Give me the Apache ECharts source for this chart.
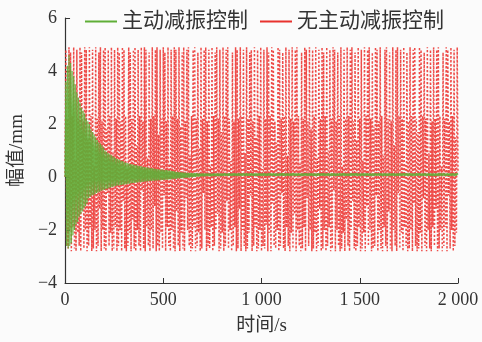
<!DOCTYPE html>
<html>
<head>
<meta charset="UTF-8"/>
<title></title>
<script src="https://cdn.jsdelivr.net/npm/echarts@6/dist/echarts.min.js"></script>
<style>
	html, body { margin: 0; padding: 0; background: #fbfbfb; }
	#chart { width: 482px; height: 342px; }
</style>
</head>
<body>
<div id="chart"></div>
<script type="text/javascript">
	// sampling step of both records, seconds
	var timeStep = 4;

	// 无主动减振控制 (red, dotted)
	var passiveValues = [
		0, 4.8, -2.6, 2.2, -2.7, 4.9, -2.0, 4.7, -2.8, 2.3,
		-1.9, 4.9, -2.7, 0.6, -2.8, 4.8, -2.1, 2.2, -2.6, 4.9,
		-2.8, 4.7, -0.8, 2.1, -2.7, 4.9, -2.0, 4.8, -2.8, 1.4,
		-2.6, 4.9, -1.9, 2.3, -2.8, 4.8, -2.7, 0.4, -2.0, 4.9,
		-2.8, 2.2, -2.6, 4.7, -1.2, 4.9, -2.8, 2.1, -2.0, 4.8,
		-2.7, 4.9, -2.8, 1.8, -0.6, 4.8, -2.6, 2.3, -2.1, 4.9,
		-2.8, 0.9, -2.7, 4.8, -1.9, 2.2, -2.8, 4.9, -2.6, 4.7,
		-2.0, 2.1, -2.8, 4.9, -0.9, 4.8, -2.7, 2.3, -2.8, 0.3,
		-2.6, 4.9, -2.1, 4.7, -2.8, 2.2, -1.6, 4.8, -2.7, 4.9,
		-2.8, 1.2, -2.0, 4.8, -2.6, 2.3, -2.8, 4.9, -0.5, 2.1,
		-2.7, 4.9, -2.8, 4.8, -1.9, 0.7, -2.6, 4.7, -2.8, 2.2,
		-2.0, 4.9, -2.7, 2.3, -1.1, 4.8, -2.8, 4.9, -2.6, 1.6,
		-2.8, 4.8, -2.1, 2.2, -2.7, 4.9, -0.7, 4.7, -2.8, 2.1,
		-1.9, 4.9, -2.6, 0.5, -2.8, 4.8, -2.0, 2.3, -2.7, 4.9,
		-2.8, 4.8, -1.3, 2.2, -2.6, 4.9, -2.8, 1.9, -2.1, 4.7,
		-2.7, 4.9, -2.8, 2.1, -0.8, 4.8, -2.0, 4.9, -2.6, 0.8,
		-2.8, 2.3, -2.7, 4.8, -1.9, 4.9, -2.8, 2.2, -2.6, 4.7,
		-2.1, 1.1, -2.8, 4.9, -2.7, 2.2, -0.6, 4.8, -2.0, 4.9,
		-2.8, 2.1, -2.6, 4.8, -2.7, 0.4, -1.9, 4.9, -2.8, 2.3,
		-2.6, 4.7, -2.0, 4.9, -1.4, 2.2, -2.8, 4.8, -2.7, 1.7,
		-2.1, 4.9, -2.8, 2.3, -2.6, 4.8, -0.9, 4.9, -2.7, 2.2,
		-2.0, 0.6, -2.8, 4.7, -2.6, 2.1, -1.9, 4.9, -2.8, 4.8,
		-2.7, 2.2, -1.2, 4.9, -2.8, 2.3, -2.0, 4.8, -2.6, 0.9,
		-2.8, 4.9, -2.7, 2.2, -2.1, 4.7, -0.7, 4.8, -2.8, 2.1,
		-2.6, 4.9, -1.9, 1.5, -2.8, 4.8, -2.7, 2.3, -2.0, 4.9,
		-2.8, 0.3, -2.6, 4.8, -2.7, 2.2, -1.8, 4.9, -2.8, 4.7,
		-2.1, 2.3, -2.8, 4.9, -1.0, 4.8, -2.6, 2.1, -2.7, 1.3,
		-2.0, 4.9, -2.8, 4.8, -2.6, 2.2, -0.6, 4.7, -2.7, 2.3,
		-2.8, 4.9, -1.9, 0.8, -2.6, 4.8, -2.8, 2.2, -2.1, 4.9,
		-2.7, 2.1, -1.4, 4.8, -2.8, 4.9, -2.0, 2.3, -2.6, 0.5,
		-2.8, 4.7, -2.7, 2.2, -1.9, 4.9, -2.8, 4.8, -0.8, 2.1,
		-2.6, 4.9, -2.0, 1.8, -2.8, 4.8, -2.7, 2.3, -2.1, 4.9,
		-2.8, 0.7, -2.6, 4.8, -1.2, 2.2, -2.8, 4.9, -2.7, 4.7,
		-2.0, 2.3, -2.8, 4.9, -2.6, 1.0, -1.9, 4.8, -2.8, 2.2,
		-2.7, 4.9, -0.5, 4.8, -2.8, 2.1, -2.0, 4.7, -2.6, 2.3,
		-2.8, 4.9, -2.7, 0.4, -2.1, 4.8, -2.8, 2.2, -1.6, 4.9,
		-2.6, 2.3, -2.8, 4.8, -2.0, 4.9, -0.9, 2.1, -2.7, 4.7,
		-2.8, 1.4, -2.6, 4.9, -1.9, 2.2, -2.8, 4.8, -2.7, 0.6,
		-2.1, 4.9, -2.8, 2.3, -1.1, 4.8, -2.6, 4.9, -2.0, 2.2,
		-2.8, 4.7, -2.7, 1.9, -2.6, 4.9, -0.7, 4.8, -2.8, 2.1,
		-2.0, 4.9, -2.7, 2.3, -2.8, 0.8, -1.9, 4.8, -2.6, 4.9,
		-2.8, 2.2, -1.3, 4.7, -2.7, 2.1, -2.8, 4.9, -2.0, 1.2,
		-2.6, 4.8, -2.8, 4.9, -0.6, 2.3, -2.7, 4.8, -2.1, 2.2,
		-2.8, 4.9, -1.9, 0.5, -2.6, 4.7, -2.8, 2.1, -2.7, 4.9,
		-2.0, 2.3, -2.8, 4.8, -1.0, 4.9, -2.6, 2.2, -2.8, 1.7,
		-2.7, 4.9, -2.1, 4.8, -2.8, 2.3, -0.8, 4.7, -2.6, 2.2,
		-2.8, 4.9, -2.0, 0.9, -2.7, 4.8, -2.8, 2.1, -1.9, 4.9,
		-2.6, 2.2, -1.2, 4.8, -2.8, 4.9, -2.7, 2.3, -2.0, 0.4,
		-2.8, 4.7, -2.6, 2.2, -1.9, 4.9, -2.8, 4.8, -0.7, 2.1,
		-2.7, 4.9, -2.0, 2.3, -2.8, 4.8, -2.6, 1.5, -2.1, 4.9,
		0.2
	];

	// 主动减振控制 (green, solid)
	var activeValues = [
		0, 3.6, -2.6, 4.2, -2.7, 4.6, -2.6, 4.3, -2.5, 4.0,
		-2.2, 3.8, -2.0, 3.5, -1.8, 3.2, -1.7, 3.0, -1.5, 2.8,
		-1.4, 2.6, -1.3, 2.5, -1.2, 2.4, -1.1, 2.2, -1.0, 2.1,
		-0.8, 2.0, -0.75, 1.8, -0.7, 1.7, -0.68, 1.6, -0.65, 1.5,
		-0.6, 1.4, -0.58, 1.3, -0.55, 1.25, -0.52, 1.2, -0.5, 1.1,
		-0.48, 1.0, -0.46, 0.95, -0.44, 0.9, -0.42, 0.86, -0.4, 0.82,
		-0.38, 0.78, -0.36, 0.74, -0.34, 0.7, -0.33, 0.68, -0.32, 0.65,
		-0.31, 0.62, -0.3, 0.6, -0.29, 0.57, -0.28, 0.55, -0.27, 0.53,
		-0.26, 0.51, -0.25, 0.49, -0.24, 0.48, -0.23, 0.46, -0.23, 0.45,
		-0.22, 0.44, -0.21, 0.42, -0.2, 0.41, -0.2, 0.4, -0.19, 0.39,
		-0.18, 0.38, -0.17, 0.37, -0.17, 0.36, -0.16, 0.35, -0.15, 0.34,
		-0.15, 0.33, -0.14, 0.32, -0.14, 0.31, -0.13, 0.3, -0.13, 0.29,
		-0.12, 0.28, -0.12, 0.28, -0.11, 0.27, -0.11, 0.26, -0.1, 0.26,
		-0.1, 0.25, -0.09, 0.24, -0.09, 0.23, -0.08, 0.22, -0.07, 0.21,
		-0.07, 0.2, -0.06, 0.2, -0.05, 0.19, -0.05, 0.18, -0.04, 0.18,
		-0.04, 0.17, -0.03, 0.17, -0.03, 0.16, -0.02, 0.16, -0.02, 0.16,
		-0.01, 0.15, -0.01, 0.15, 0.0, 0.15, 0.0, 0.15, 0.01, 0.14,
		0.01, 0.14, 0.01, 0.14, 0.02, 0.14, 0.02, 0.14, 0.02, 0.14,
		0.03, 0.14, 0.03, 0.14, 0.03, 0.13, 0.03, 0.13, 0.04, 0.13,
		0.04, 0.13, 0.04, 0.13, 0.04, 0.13, 0.04, 0.13, 0.04, 0.13,
		0.04, 0.13, 0.05, 0.14, 0.04, 0.13, 0.05, 0.13, 0.04, 0.14,
		0.05, 0.13, 0.04, 0.13, 0.05, 0.14, 0.04, 0.13, 0.05, 0.13,
		0.04, 0.14, 0.05, 0.13, 0.04, 0.13, 0.05, 0.14, 0.04, 0.13,
		0.05, 0.14, 0.04, 0.13, 0.05, 0.13, 0.04, 0.14, 0.05, 0.13,
		0.04, 0.13, 0.05, 0.14, 0.04, 0.13, 0.05, 0.14, 0.04, 0.13,
		0.05, 0.13, 0.04, 0.14, 0.05, 0.13, 0.04, 0.13, 0.05, 0.14,
		0.04, 0.14, 0.05, 0.13, 0.04, 0.14, 0.05, 0.13, 0.04, 0.13,
		0.05, 0.13, 0.04, 0.13, 0.05, 0.14, 0.04, 0.14, 0.05, 0.13,
		0.04, 0.13, 0.05, 0.14, 0.04, 0.13, 0.05, 0.13, 0.04, 0.14,
		0.05, 0.14, 0.04, 0.13, 0.05, 0.13, 0.04, 0.14, 0.05, 0.13,
		0.04, 0.13, 0.05, 0.13, 0.04, 0.14, 0.05, 0.14, 0.04, 0.13,
		0.05, 0.14, 0.04, 0.14, 0.05, 0.13, 0.04, 0.13, 0.05, 0.13,
		0.04, 0.13, 0.05, 0.14, 0.04, 0.13, 0.05, 0.14, 0.04, 0.14,
		0.05, 0.13, 0.04, 0.13, 0.05, 0.14, 0.04, 0.13, 0.05, 0.13,
		0.04, 0.14, 0.05, 0.13, 0.04, 0.13, 0.05, 0.13, 0.04, 0.14,
		0.05, 0.13, 0.04, 0.14, 0.05, 0.14, 0.04, 0.13, 0.05, 0.13,
		0.04, 0.13, 0.05, 0.13, 0.04, 0.14, 0.05, 0.13, 0.04, 0.14,
		0.05, 0.14, 0.04, 0.13, 0.05, 0.13, 0.04, 0.13, 0.05, 0.14,
		0.04, 0.13, 0.05, 0.14, 0.04, 0.14, 0.05, 0.13, 0.04, 0.13,
		0.05, 0.13, 0.04, 0.13, 0.05, 0.14, 0.04, 0.13, 0.05, 0.14,
		0.04, 0.14, 0.05, 0.13, 0.04, 0.13, 0.05, 0.14, 0.04, 0.13,
		0.05, 0.13, 0.04, 0.14, 0.05, 0.13, 0.04, 0.14, 0.05, 0.13,
		0.04, 0.13, 0.05, 0.13, 0.04, 0.14, 0.05, 0.13, 0.04, 0.13,
		0.05, 0.14, 0.04, 0.13, 0.05, 0.14, 0.04, 0.13, 0.05, 0.14,
		0.04, 0.13, 0.05, 0.13, 0.04, 0.13, 0.05, 0.14, 0.04, 0.14,
		0.05, 0.14, 0.04, 0.13, 0.05, 0.13, 0.04, 0.14, 0.05, 0.13,
		0.04, 0.13, 0.05, 0.14, 0.04, 0.13, 0.05, 0.13, 0.04, 0.13,
		0.05, 0.13, 0.04, 0.13, 0.05, 0.14, 0.04, 0.14, 0.05, 0.13,
		0.04, 0.14, 0.05, 0.13, 0.04, 0.13, 0.05, 0.14, 0.04, 0.13,
		0.05, 0.13, 0.04, 0.14, 0.05, 0.13, 0.04, 0.13, 0.05, 0.14,
		0.09
	];

	var seriesNames = ['主动减振控制', '无主动减振控制'];
	var xTicks = [0, 500, 1000, 1500, 2000];
	var yTicks = [-4, -2, 0, 2, 4, 6];

	function toPairs(values) {
		var out = [];
		for (var i = 0; i < values.length; i++) {
			out.push([i * timeStep, values[i]]);
		}
		return out;
	}

	var serif = "'Liberation Serif', 'Noto Sans CJK SC', serif";

	var myChart = echarts.init(document.getElementById('chart'));
	var option = {
		animation: false,
		backgroundColor: '#fbfbfb',
		grid: { left: 62, right: 24, top: 18, bottom: 59 },
		legend: {
			data: seriesNames,
			top: 6,
			left: 80,
			icon: 'rect',
			itemWidth: 32,
			itemHeight: 2,
			itemGap: 12,
			textStyle: { fontFamily: serif, fontSize: 21, color: '#333' }
		},
		xAxis: {
			type: 'value',
			min: xTicks[0],
			max: xTicks[xTicks.length - 1],
			interval: 500,
			name: '时间/s',
			nameLocation: 'middle',
			nameGap: 34,
			nameTextStyle: { fontFamily: serif, fontSize: 19, color: '#333' },
			axisLine: { onZero: false, lineStyle: { color: '#333', width: 1.2 } },
			axisTick: { inside: true, length: 5, lineStyle: { color: '#333' } },
			axisLabel: {
				fontFamily: serif, fontSize: 18, color: '#333', margin: 8,
				formatter: function (v) {
					return v >= 1000 ? Math.floor(v / 1000) + ' ' + ('00' + (v % 1000)).slice(-3) : String(v);
				}
			},
			splitLine: { show: false }
		},
		yAxis: {
			type: 'value',
			min: yTicks[0],
			max: yTicks[yTicks.length - 1],
			interval: 2,
			name: '幅值/mm',
			nameLocation: 'middle',
			nameGap: 34,
			nameRotate: 90,
			nameTextStyle: { fontFamily: serif, fontSize: 19, color: '#333' },
			axisLine: { show: true, onZero: false, lineStyle: { color: '#333', width: 1.2 } },
			axisTick: { show: true, inside: true, length: 5, lineStyle: { color: '#333' } },
			axisLabel: {
				fontFamily: serif, fontSize: 18, color: '#333', margin: 8,
				formatter: function (v) { return v < 0 ? '\u2212' + Math.abs(v) : String(v); }
			},
			splitLine: { show: false }
		},
		series: [
			{
				name: seriesNames[1],
				type: 'line',
				data: toPairs(passiveValues),
				showSymbol: false,
				color: '#e8322e',
				lineStyle: { width: 1.5, color: '#ec3a36', type: [2, 2], opacity: 0.9 },
				z: 2
			},
			{
				name: seriesNames[0],
				type: 'line',
				data: toPairs(activeValues),
				showSymbol: false,
				color: '#5fae37',
				lineStyle: { width: 1.2, color: '#5fae37', opacity: 0.9 },
				z: 3
			}
		]
	};
	option.legend.data = seriesNames;
	myChart.setOption(option);
</script>
</body>
</html>
